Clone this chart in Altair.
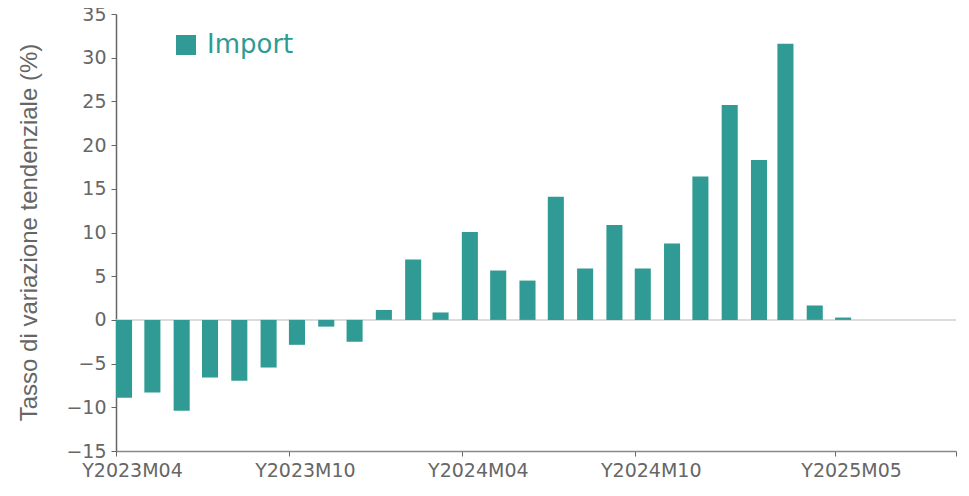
import altair as alt
import pandas as pd

months = ["2023-04-01", "2023-05-01", "2023-06-01", "2023-07-01", "2023-08-01", "2023-09-01",
          "2023-10-01", "2023-11-01", "2023-12-01", "2024-01-01", "2024-02-01", "2024-03-01",
          "2024-04-01", "2024-05-01", "2024-06-01", "2024-07-01", "2024-08-01", "2024-09-01",
          "2024-10-01", "2024-11-01", "2024-12-01", "2025-01-01", "2025-02-01", "2025-03-01",
          "2025-04-01", "2025-05-01"]
values = [-8.9, -8.3, -10.4, -6.6, -6.95, -5.45, -2.85, -0.77, -2.5, 1.14, 6.9, 0.85,
          10.05, 5.65, 4.5, 14.1, 5.87, 10.85, 5.87, 8.75, 16.4, 24.6, 18.3, 31.6,
          1.65, 0.27]
series_name = "Import"
tick_months = [(2023, 4), (2023, 10), (2024, 4), (2024, 10), (2025, 5)]
domain_end = (2025, 9, 6)
y_ticks = [-15, -10, -5, 0, 5, 10, 15, 20, 25, 30, 35]

df = pd.DataFrame({"month": months, "value": values, "series": [series_name] * len(months)})

grey = "#666666"
teal = "#309B94"
font = "DejaVu Sans"

end_dt = alt.DateTime(year=domain_end[0], month=domain_end[1], date=domain_end[2], utc=True)
tick_vals = [alt.DateTime(year=y, month=m, date=1, utc=True) for y, m in tick_months] + [end_dt]

x_axis = alt.Axis(
    values=tick_vals,
    labelExpr="datum.value >= datetime(2025, 8, 1) ? '' : 'Y' + utcFormat(datum.value, '%Y') + 'M' + utcFormat(datum.value, '%m')",
    labelOffset=16, labelFlush=False, labelOverlap=False,
    labelFont=font, labelFontSize=19, labelColor=grey, labelPadding=5,
    tickSize=5, tickColor=grey, domainColor="#888888", domainWidth=1.5,
    grid=False, title=None,
)
y_axis = alt.Axis(
    values=y_ticks, labelFont=font, labelFontSize=19, labelColor=grey, labelPadding=5,
    labelExpr="datum.value < 0 ? '\u2212' + format(-datum.value, 'd') : format(datum.value, 'd')",
    tickSize=5, tickColor=grey, domainColor=grey, domainWidth=1.5, grid=False,
    title="Tasso di variazione tendenziale (%)", titleFont="Liberation Sans", titleFontSize=24,
    titleFontWeight="normal", titleColor=grey, titleLimit=1000,
    titleX=-87, titleY=218, titleAngle=-90, titleAlign="center", titleBaseline="middle",
)

base = alt.Chart(df)

bars = base.transform_calculate(
    start="toDate(datum.month)",
    end="toDate(datum.month) + 17 * 86400000",
).mark_bar().encode(
    x=alt.X("start:T", scale=alt.Scale(type="utc", domain=[alt.DateTime(year=2023, month=4, date=1, utc=True), end_dt]), axis=x_axis),
    x2="end:T",
    y=alt.Y("value:Q", scale=alt.Scale(domain=[-15, 35], nice=False, zero=False), axis=y_axis),
    y2=alt.datum(0),
    color=alt.Color("series:N", scale=alt.Scale(range=[teal]), legend=alt.Legend(
        title=None, orient="none", legendX=57, legendY=18, padding=0,
        symbolType="square", symbolSize=400, symbolStrokeWidth=0, symbolOpacity=1,
        labelFont=font, labelFontSize=26, labelColor=teal, labelOffset=8,
    )),
)

zero = alt.Chart(pd.DataFrame({"v": [0]})).mark_rule(color="#d0d0d0", strokeWidth=1.5).encode(
    y=alt.Y("v:Q")
)

chart = alt.layer(zero, bars).properties(
    width=840, height=437,
    autosize=alt.AutoSizeParams(type="none"),
    padding={"left": 108, "top": 6, "right": 5, "bottom": 37},
).configure_view(stroke=None)

chart.save("out.html", embed_options={"renderer": "svg", "actions": False})
